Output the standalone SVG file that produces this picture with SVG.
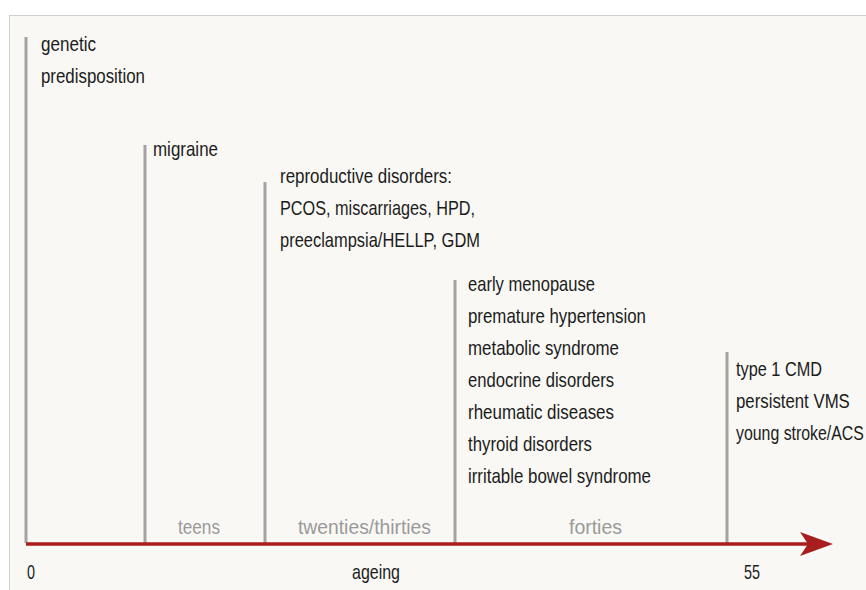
<svg xmlns="http://www.w3.org/2000/svg" width="866" height="590" viewBox="0 0 866 590">
<style>
text{font-family:"Liberation Sans",Arial,sans-serif;font-size:21px;fill:#1c1c1c}
.era{fill:#9a9a9a}
.tick{stroke:#a3a3a3;stroke-width:3}
</style>
<rect x="0" y="0" width="866" height="590" fill="#ffffff"/>
<rect x="9.5" y="15.5" width="870" height="580" fill="#f9f8f4" stroke="#cfcfcf" stroke-width="1"/>
<g id="connectors">
<line class="tick" x1="26" y1="37" x2="26" y2="543"/>
<line class="tick" x1="145" y1="145" x2="145" y2="543"/>
<line class="tick" x1="265" y1="182" x2="265" y2="543"/>
<line class="tick" x1="455" y1="280" x2="455" y2="543"/>
<line class="tick" x1="727" y1="352" x2="727" y2="543"/>
<line x1="26" y1="544" x2="808" y2="544" stroke="#a81e1e" stroke-width="3.5"/>
<polygon points="800,532 833,544 800,556 808,544" fill="#a81e1e"/>
</g>
<g id="genetic"><text x="41" y="51" textLength="55" lengthAdjust="spacingAndGlyphs">genetic</text><text x="41" y="83" textLength="104" lengthAdjust="spacingAndGlyphs">predisposition</text></g>
<g id="migraine"><text x="153" y="156" textLength="65" lengthAdjust="spacingAndGlyphs">migraine</text></g>
<g id="reproductive"><text x="280" y="183" textLength="172" lengthAdjust="spacingAndGlyphs">reproductive disorders:</text><text x="280" y="215" textLength="195" lengthAdjust="spacingAndGlyphs">PCOS, miscarriages, HPD,</text><text x="280" y="247" textLength="200" lengthAdjust="spacingAndGlyphs">preeclampsia/HELLP, GDM</text></g>
<g id="forties-list">
<text x="468" y="291" textLength="127" lengthAdjust="spacingAndGlyphs">early menopause</text>
<text x="468" y="323" textLength="178" lengthAdjust="spacingAndGlyphs">premature hypertension</text>
<text x="468" y="355" textLength="151" lengthAdjust="spacingAndGlyphs">metabolic syndrome</text>
<text x="468" y="387" textLength="146" lengthAdjust="spacingAndGlyphs">endocrine disorders</text>
<text x="468" y="419" textLength="146" lengthAdjust="spacingAndGlyphs">rheumatic diseases</text>
<text x="468" y="451" textLength="124" lengthAdjust="spacingAndGlyphs">thyroid disorders</text>
<text x="468" y="483" textLength="183" lengthAdjust="spacingAndGlyphs">irritable bowel syndrome</text>
</g>
<g id="fifties"><text x="736" y="376" textLength="86" lengthAdjust="spacingAndGlyphs">type 1 CMD</text><text transform="translate(736,408) scale(0.8,1)" x="0" y="0">persistent VMS</text><text transform="translate(736,440) scale(0.756,1)" x="0" y="0">young stroke/ACS</text></g>
<g id="eras">
<text class="era" x="178" y="534" textLength="42" lengthAdjust="spacingAndGlyphs">teens</text>
<text class="era" x="298" y="534" textLength="133" lengthAdjust="spacingAndGlyphs">twenties/thirties</text>
<text class="era" x="569" y="534" textLength="53" lengthAdjust="spacingAndGlyphs">forties</text>
</g>
<g id="axis-labels">
<text x="27" y="579" textLength="8" lengthAdjust="spacingAndGlyphs">0</text>
<text x="352" y="579" textLength="48" lengthAdjust="spacingAndGlyphs">ageing</text>
<text x="744" y="579" textLength="16" lengthAdjust="spacingAndGlyphs">55</text>
</g>
</svg>
